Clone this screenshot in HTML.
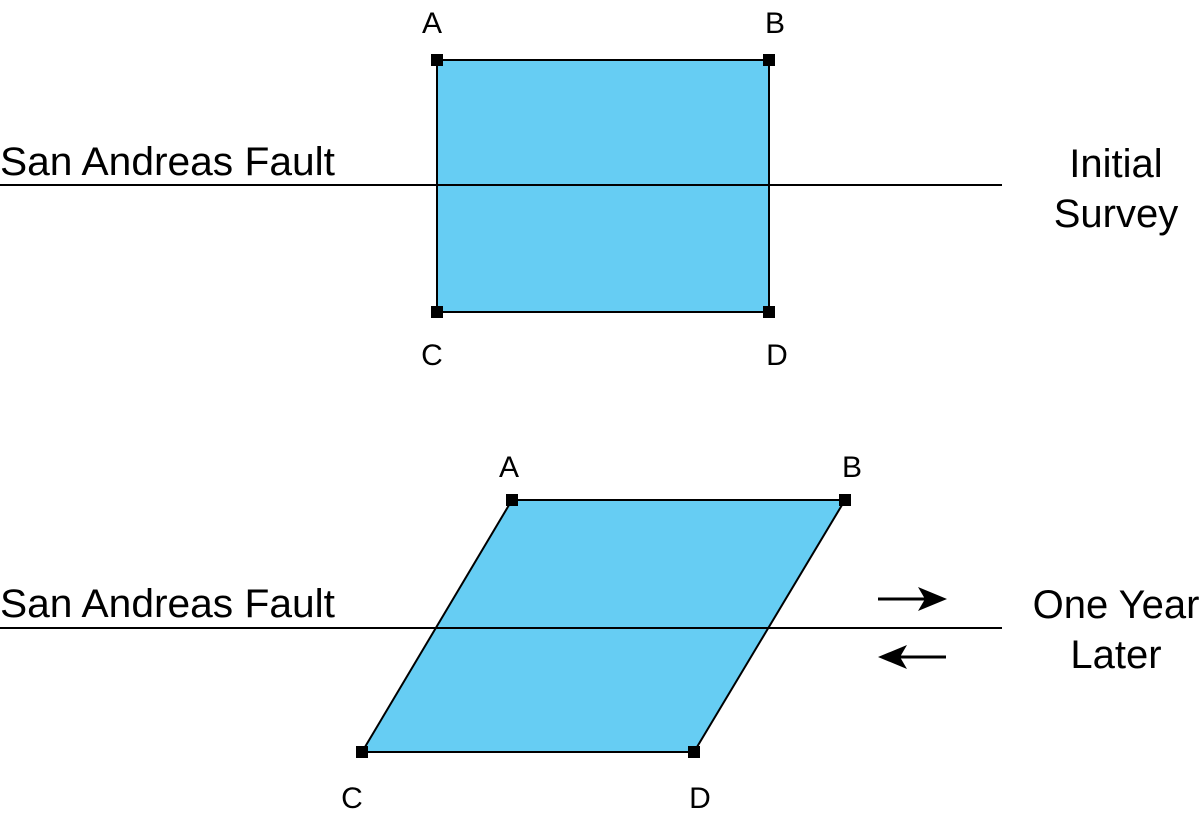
<!DOCTYPE html>
<html><head><meta charset="utf-8"><style>
html,body{margin:0;padding:0;background:#fff;}
svg{display:block;}
text{font-family:"Liberation Sans",sans-serif;fill:#000;}
</style></head><body>
<svg width="1200" height="819" viewBox="0 0 1200 819" xmlns="http://www.w3.org/2000/svg">
<!-- top -->
<rect x="437" y="60" width="332" height="252" fill="#66CDF3" stroke="#000" stroke-width="2"/>
<line x1="0" y1="185" x2="1002" y2="185" stroke="#000" stroke-width="2"/>
<rect x="431" y="54" width="12" height="12"/><rect x="763" y="54" width="12" height="12"/>
<rect x="431" y="306" width="12" height="12"/><rect x="763" y="306" width="12" height="12"/>
<text x="0" y="175" font-size="40" textLength="335" lengthAdjust="spacingAndGlyphs">San Andreas Fault</text>
<text x="1116" y="177" font-size="40" text-anchor="middle">Initial</text>
<text x="1116" y="227" font-size="40" text-anchor="middle">Survey</text>
<text x="432" y="33" font-size="30" text-anchor="middle">A</text>
<text x="775" y="33" font-size="30" text-anchor="middle">B</text>
<text x="432" y="365" font-size="30" text-anchor="middle">C</text>
<text x="777" y="365" font-size="30" text-anchor="middle">D</text>
<!-- bottom -->
<polygon points="512,500 845,500 694,752 362,752" fill="#66CDF3" stroke="#000" stroke-width="2"/>
<line x1="0" y1="628" x2="1002" y2="628" stroke="#000" stroke-width="2"/>
<rect x="506" y="494" width="12" height="12"/><rect x="839" y="494" width="12" height="12"/>
<rect x="356" y="746" width="12" height="12"/><rect x="688" y="746" width="12" height="12"/>
<text x="0" y="617" font-size="40" textLength="335" lengthAdjust="spacingAndGlyphs">San Andreas Fault</text>
<text x="1116" y="618" font-size="40" text-anchor="middle">One Year</text>
<text x="1116" y="668" font-size="40" text-anchor="middle">Later</text>
<text x="509" y="477" font-size="30" text-anchor="middle">A</text>
<text x="852" y="477" font-size="30" text-anchor="middle">B</text>
<text x="352" y="808" font-size="30" text-anchor="middle">C</text>
<text x="700" y="808" font-size="30" text-anchor="middle">D</text>
<!-- arrows -->
<line x1="878" y1="599" x2="930" y2="599" stroke="#000" stroke-width="3"/>
<polygon points="947,599 918,587 925,599 918,611" fill="#000"/>
<line x1="896" y1="657" x2="946" y2="657" stroke="#000" stroke-width="3"/>
<polygon points="878,657 907,645 900,657 907,669" fill="#000"/>
</svg>
</body></html>
